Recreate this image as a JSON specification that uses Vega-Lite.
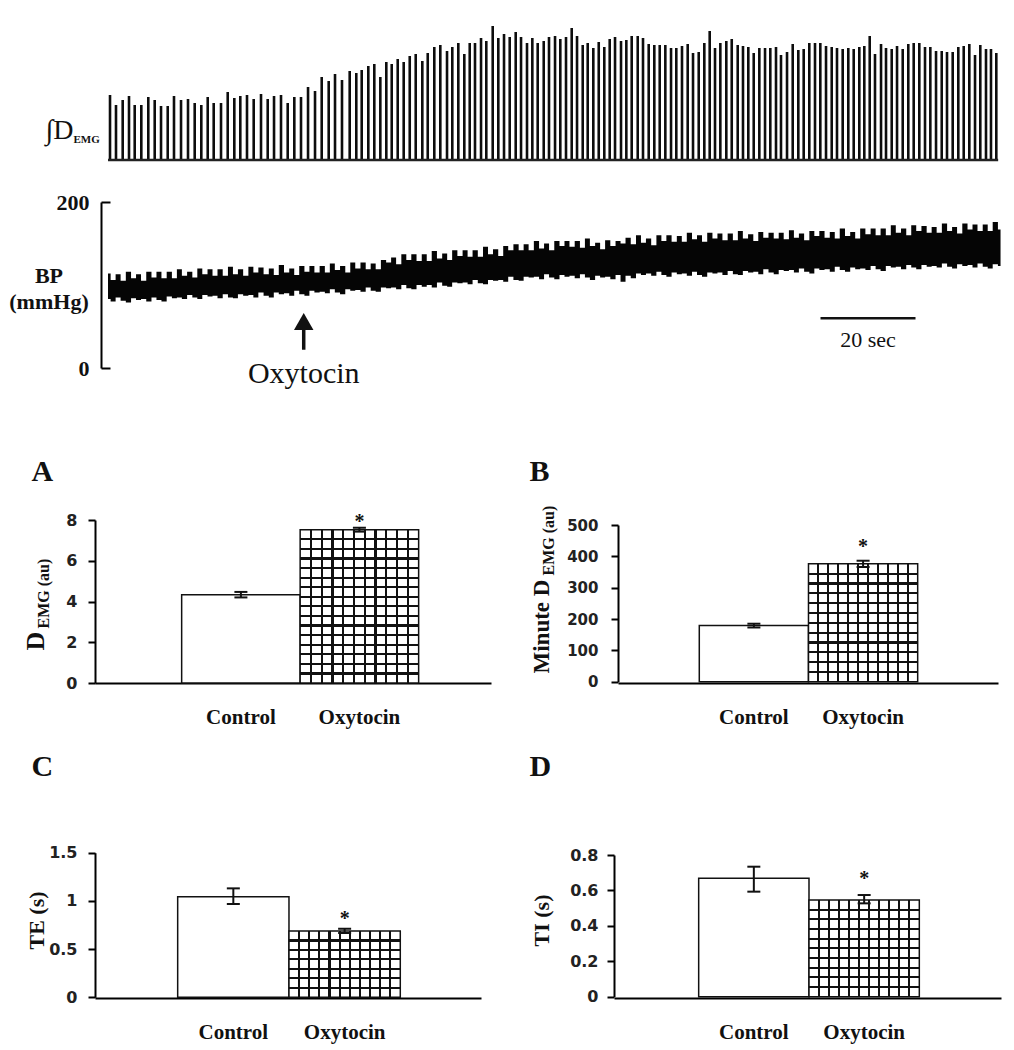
{
  "$schema": "https://vega.github.io/schema/vega-lite/v6.json",
  "padding": {"left": 8, "top": 20, "right": 5, "bottom": 5},
  "background": "white",
  "bounds": "flush",
  "spacing": 42,
  "config": {"view": {"stroke": null}, "axis": {"grid": false, "domainColor": "#000", "tickColor": "#000"}},
  "datasets": {
    "emg": [
      {"t":0.42,"amp":65},{"t":1.68,"amp":55},{"t":3.09,"amp":60},{"t":4.42,"amp":64},{"t":5.62,"amp":55},{"t":7.01,"amp":55},{"t":8.48,"amp":63},{"t":9.83,"amp":60},{"t":11.16,"amp":54},{"t":12.57,"amp":54},
      {"t":13.89,"amp":64},{"t":15.37,"amp":60},{"t":16.84,"amp":61},{"t":18.25,"amp":57},{"t":19.64,"amp":55},{"t":20.99,"amp":63},{"t":22.25,"amp":57},{"t":23.79,"amp":57},{"t":25.2,"amp":68},{"t":26.59,"amp":62},
      {"t":27.85,"amp":64},{"t":29.26,"amp":65},{"t":30.67,"amp":61},{"t":32.21,"amp":66},{"t":33.62,"amp":61},{"t":34.95,"amp":64},{"t":36.42,"amp":65},{"t":37.83,"amp":57},{"t":39.22,"amp":63},{"t":40.63,"amp":63},
      {"t":42.11,"amp":73},{"t":43.58,"amp":69},{"t":44.99,"amp":83},{"t":46.46,"amp":79},{"t":47.79,"amp":86},{"t":49.26,"amp":80},{"t":50.88,"amp":89},{"t":52.27,"amp":87},{"t":53.41,"amp":90},{"t":54.8,"amp":94},
      {"t":56.06,"amp":96},{"t":57.33,"amp":83},{"t":58.59,"amp":98},{"t":59.73,"amp":96},{"t":60.99,"amp":101},{"t":62.25,"amp":98},{"t":63.52,"amp":104},{"t":64.78,"amp":106},{"t":66.17,"amp":99},{"t":67.31,"amp":107},
      {"t":68.69,"amp":113},{"t":69.96,"amp":115},{"t":71.37,"amp":109},{"t":72.48,"amp":113},{"t":73.75,"amp":117},{"t":75.01,"amp":106},{"t":76.15,"amp":117},{"t":77.26,"amp":117},{"t":78.53,"amp":122},{"t":79.64,"amp":119},
      {"t":80.99,"amp":134},{"t":82.17,"amp":122},{"t":83.37,"amp":126},{"t":84.57,"amp":123},{"t":85.83,"amp":128},{"t":86.95,"amp":123},{"t":88.21,"amp":117},{"t":89.33,"amp":122},{"t":90.46,"amp":117},{"t":91.73,"amp":119},
      {"t":92.84,"amp":123},{"t":94.11,"amp":124},{"t":95.22,"amp":121},{"t":96.42,"amp":123},{"t":97.62,"amp":132},{"t":98.74,"amp":124},{"t":99.94,"amp":115},{"t":100.99,"amp":117},{"t":102.17,"amp":112},{"t":103.31,"amp":118},
      {"t":104.48,"amp":113},{"t":105.62,"amp":121},{"t":106.74,"amp":123},{"t":108,"amp":119},{"t":109.12,"amp":120},{"t":110.25,"amp":124},{"t":111.52,"amp":124},{"t":112.63,"amp":122},{"t":113.83,"amp":116},{"t":115.01,"amp":115},
      {"t":116.15,"amp":115},{"t":117.33,"amp":115},{"t":118.53,"amp":112},{"t":119.64,"amp":112},{"t":120.84,"amp":114},{"t":122.04,"amp":116},{"t":123.16,"amp":107},{"t":124.36,"amp":108},{"t":125.54,"amp":117},{"t":126.67,"amp":129},
      {"t":127.79,"amp":112},{"t":128.91,"amp":117},{"t":130.17,"amp":119},{"t":131.31,"amp":121},{"t":132.57,"amp":115},{"t":133.68,"amp":114},{"t":134.8,"amp":113},{"t":135.94,"amp":107},{"t":137.12,"amp":112},{"t":138.32,"amp":112},
      {"t":139.43,"amp":112},{"t":140.63,"amp":113},{"t":141.68,"amp":105},{"t":142.95,"amp":108},{"t":144.15,"amp":116},{"t":145.33,"amp":110},{"t":146.46,"amp":111},{"t":147.64,"amp":117},{"t":148.84,"amp":117},{"t":149.96,"amp":117},
      {"t":151.16,"amp":114},{"t":152.36,"amp":113},{"t":153.47,"amp":112},{"t":154.67,"amp":111},{"t":155.85,"amp":112},{"t":156.99,"amp":111},{"t":158.17,"amp":113},{"t":159.22,"amp":114},{"t":160.36,"amp":124},{"t":161.47,"amp":106},
      {"t":162.74,"amp":116},{"t":163.79,"amp":112},{"t":164.99,"amp":111},{"t":166.11,"amp":114},{"t":167.31,"amp":111},{"t":168.48,"amp":116},{"t":169.62,"amp":117},{"t":170.8,"amp":117},{"t":172,"amp":113},{"t":173.12,"amp":113},
      {"t":174.32,"amp":109},{"t":175.52,"amp":109},{"t":176.63,"amp":108},{"t":177.83,"amp":108},{"t":179.01,"amp":113},{"t":180.15,"amp":114},{"t":181.33,"amp":116},{"t":182.53,"amp":105},{"t":183.64,"amp":115},{"t":184.84,"amp":111},
      {"t":185.89,"amp":111},{"t":187.01,"amp":107}
    ],
    "bp": [
      {"t":0,"lo":83,"hi":114},{"t":1.1,"lo":80,"hi":106},{"t":2.1,"lo":85,"hi":113},{"t":3.2,"lo":81,"hi":105},{"t":4.3,"lo":79,"hi":116},{"t":5.4,"lo":84,"hi":108},{"t":6.4,"lo":82,"hi":113},{"t":7.5,"lo":83,"hi":105},
      {"t":8.6,"lo":80,"hi":116},{"t":9.7,"lo":85,"hi":109},{"t":10.7,"lo":82,"hi":116},{"t":11.8,"lo":80,"hi":108},{"t":12.9,"lo":86,"hi":116},{"t":14.0,"lo":84,"hi":108},{"t":15.0,"lo":85,"hi":119},{"t":16.1,"lo":83,"hi":111},
      {"t":17.2,"lo":88,"hi":116},{"t":18.3,"lo":85,"hi":109},{"t":19.3,"lo":83,"hi":120},{"t":20.4,"lo":88,"hi":113},{"t":21.5,"lo":86,"hi":119},{"t":22.5,"lo":87,"hi":111},{"t":23.6,"lo":84,"hi":119},{"t":24.7,"lo":89,"hi":111},
      {"t":25.8,"lo":85,"hi":122},{"t":26.8,"lo":84,"hi":113},{"t":27.9,"lo":89,"hi":119},{"t":29.0,"lo":87,"hi":111},{"t":30.1,"lo":88,"hi":122},{"t":31.1,"lo":85,"hi":115},{"t":32.2,"lo":91,"hi":121},{"t":33.3,"lo":87,"hi":113},
      {"t":34.4,"lo":85,"hi":120},{"t":35.4,"lo":91,"hi":112},{"t":36.5,"lo":89,"hi":124},{"t":37.6,"lo":90,"hi":115},{"t":38.7,"lo":87,"hi":120},{"t":39.7,"lo":93,"hi":112},{"t":40.8,"lo":89,"hi":123},{"t":41.9,"lo":87,"hi":116},
      {"t":42.9,"lo":93,"hi":123},{"t":44.0,"lo":91,"hi":115},{"t":45.1,"lo":92,"hi":123},{"t":46.2,"lo":90,"hi":115},{"t":47.2,"lo":95,"hi":126},{"t":48.3,"lo":91,"hi":118},{"t":49.4,"lo":89,"hi":123},{"t":50.5,"lo":95,"hi":115},
      {"t":51.5,"lo":93,"hi":127},{"t":52.6,"lo":94,"hi":120},{"t":53.7,"lo":92,"hi":127},{"t":54.8,"lo":97,"hi":119},{"t":55.8,"lo":93,"hi":126},{"t":56.9,"lo":92,"hi":119},{"t":58.0,"lo":97,"hi":130},{"t":59.1,"lo":96,"hi":127},
      {"t":60.1,"lo":97,"hi":133},{"t":61.2,"lo":95,"hi":125},{"t":62.3,"lo":100,"hi":137},{"t":63.3,"lo":96,"hi":130},{"t":64.4,"lo":95,"hi":137},{"t":65.5,"lo":100,"hi":129},{"t":66.6,"lo":98,"hi":137},{"t":67.6,"lo":100,"hi":129},
      {"t":68.7,"lo":97,"hi":141},{"t":69.8,"lo":103,"hi":132},{"t":70.9,"lo":99,"hi":138},{"t":71.9,"lo":98,"hi":130},{"t":73.0,"lo":103,"hi":142},{"t":74.1,"lo":102,"hi":135},{"t":75.2,"lo":103,"hi":142},{"t":76.2,"lo":101,"hi":134},
      {"t":77.3,"lo":106,"hi":142},{"t":78.4,"lo":102,"hi":134},{"t":79.5,"lo":101,"hi":146},{"t":80.5,"lo":106,"hi":137},{"t":81.6,"lo":105,"hi":143},{"t":82.7,"lo":106,"hi":135},{"t":83.7,"lo":104,"hi":147},{"t":84.8,"lo":110,"hi":142},
      {"t":85.9,"lo":106,"hi":149},{"t":87.0,"lo":105,"hi":142},{"t":88.0,"lo":110,"hi":149},{"t":89.1,"lo":109,"hi":142},{"t":90.2,"lo":110,"hi":153},{"t":91.3,"lo":107,"hi":144},{"t":92.3,"lo":113,"hi":150},{"t":93.4,"lo":109,"hi":142},
      {"t":94.5,"lo":107,"hi":153},{"t":95.6,"lo":112,"hi":147},{"t":96.6,"lo":110,"hi":153},{"t":97.7,"lo":111,"hi":146},{"t":98.8,"lo":108,"hi":153},{"t":99.9,"lo":113,"hi":145},{"t":100.9,"lo":109,"hi":156},{"t":102.0,"lo":106,"hi":147},
      {"t":103.1,"lo":111,"hi":151},{"t":104.1,"lo":109,"hi":143},{"t":105.2,"lo":110,"hi":154},{"t":106.3,"lo":107,"hi":147},{"t":107.4,"lo":112,"hi":153},{"t":108.4,"lo":104,"hi":150},{"t":109.5,"lo":111,"hi":157},{"t":110.6,"lo":108,"hi":149},
      {"t":111.7,"lo":114,"hi":160},{"t":112.7,"lo":112,"hi":151},{"t":113.8,"lo":114,"hi":156},{"t":114.9,"lo":111,"hi":148},{"t":116.0,"lo":116,"hi":160},{"t":117.0,"lo":112,"hi":153},{"t":118.1,"lo":110,"hi":160},{"t":119.2,"lo":115,"hi":152},
      {"t":120.3,"lo":113,"hi":159},{"t":121.3,"lo":114,"hi":152},{"t":122.4,"lo":111,"hi":163},{"t":123.5,"lo":116,"hi":155},{"t":124.5,"lo":112,"hi":160},{"t":125.6,"lo":110,"hi":152},{"t":126.7,"lo":115,"hi":163},{"t":127.8,"lo":114,"hi":156},
      {"t":128.8,"lo":115,"hi":162},{"t":129.9,"lo":112,"hi":154},{"t":131.0,"lo":117,"hi":162},{"t":132.1,"lo":113,"hi":154},{"t":133.1,"lo":112,"hi":165},{"t":134.2,"lo":117,"hi":156},{"t":135.3,"lo":115,"hi":161},{"t":136.4,"lo":116,"hi":153},
      {"t":137.4,"lo":113,"hi":164},{"t":138.5,"lo":119,"hi":157},{"t":139.6,"lo":115,"hi":163},{"t":140.7,"lo":113,"hi":156},{"t":141.7,"lo":118,"hi":163},{"t":142.8,"lo":117,"hi":155},{"t":143.9,"lo":118,"hi":166},{"t":144.9,"lo":115,"hi":157},
      {"t":146.0,"lo":120,"hi":162},{"t":147.1,"lo":116,"hi":154},{"t":148.2,"lo":114,"hi":165},{"t":149.2,"lo":120,"hi":159},{"t":150.3,"lo":118,"hi":165},{"t":151.4,"lo":119,"hi":157},{"t":152.5,"lo":116,"hi":164},{"t":153.5,"lo":122,"hi":156},
      {"t":154.6,"lo":118,"hi":168},{"t":155.7,"lo":116,"hi":159},{"t":156.8,"lo":121,"hi":164},{"t":157.8,"lo":119,"hi":156},{"t":158.9,"lo":120,"hi":168},{"t":160.0,"lo":118,"hi":161},{"t":161.1,"lo":123,"hi":168},{"t":162.1,"lo":119,"hi":160},
      {"t":163.2,"lo":117,"hi":168},{"t":164.3,"lo":123,"hi":160},{"t":165.3,"lo":121,"hi":172},{"t":166.4,"lo":122,"hi":163},{"t":167.5,"lo":119,"hi":168},{"t":168.6,"lo":124,"hi":160},{"t":169.6,"lo":121,"hi":172},{"t":170.7,"lo":119,"hi":165},
      {"t":171.8,"lo":124,"hi":171},{"t":172.9,"lo":122,"hi":163},{"t":173.9,"lo":123,"hi":170},{"t":175.0,"lo":121,"hi":163},{"t":176.1,"lo":126,"hi":174},{"t":177.2,"lo":122,"hi":165},{"t":178.2,"lo":120,"hi":170},{"t":179.3,"lo":125,"hi":162},
      {"t":180.4,"lo":123,"hi":174},{"t":181.5,"lo":124,"hi":167},{"t":182.5,"lo":121,"hi":173},{"t":183.6,"lo":126,"hi":165},{"t":184.7,"lo":122,"hi":173},{"t":185.7,"lo":120,"hi":165},{"t":186.8,"lo":125,"hi":176},{"t":187.9,"lo":123,"hi":167}
    ],
    "A": [{"group":"Control","mean":4.33,"lo":4.2,"hi":4.47},{"group":"Oxytocin","mean":7.52,"lo":7.43,"hi":7.62}],
    "B": [{"group":"Control","mean":179,"lo":173,"hi":185},{"group":"Oxytocin","mean":376,"lo":366,"hi":386}],
    "C": [{"group":"Control","mean":1.044,"lo":0.968,"hi":1.13},{"group":"Oxytocin","mean":0.688,"lo":0.667,"hi":0.71}],
    "D": [{"group":"Control","mean":0.669,"lo":0.593,"hi":0.734},{"group":"Oxytocin","mean":0.546,"lo":0.527,"hi":0.574}]
  },
  "vconcat": [
    {
      "width": 909, "height": 140,
      "layer": [
        {"data": {"name": "emg"},
         "mark": {"type": "rule", "color": "#0d0d0d", "strokeWidth": 2.6},
         "encoding": {
           "x": {"field": "t", "type": "quantitative", "scale": {"domain": [-2.74, 188.63], "nice": false, "zero": false}, "axis": null},
           "y": {"field": "amp", "type": "quantitative", "scale": {"domain": [0, 140], "nice": false, "zero": false},
                 "axis": {"orient": "left", "domain": false, "ticks": false, "labels": false, "title": "∫D", "titleAngle": 0, "titleAlign": "right", "titleBaseline": "alphabetic", "titleX": -22, "titleY": 118, "titleFont": "Liberation Serif", "titleFontSize": 28, "titleFontWeight": "normal", "titleColor": "#111"}},
           "y2": {"datum": 0}
         }},
        {"data": {"values": [{}]},
         "mark": {"type": "rule", "color": "#222", "strokeWidth": 2.5},
         "encoding": {
           "x": {"datum": 0, "type": "quantitative", "scale": {"domain": [-2.74, 188.63], "nice": false, "zero": false}, "axis": null},
           "x2": {"datum": 187.4},
           "y": {"datum": 0, "type": "quantitative", "scale": {"domain": [0, 140], "nice": false, "zero": false},
                 "axis": {"orient": "left", "domain": false, "ticks": false, "labels": false, "title": "EMG", "titleAngle": 0, "titleAlign": "left", "titleBaseline": "alphabetic", "titleX": -22, "titleY": 122, "titleFont": "Liberation Serif", "titleFontSize": 11, "titleFontWeight": "bold", "titleColor": "#111"}}
         }}
      ],
      "resolve": {"axis": {"x": "independent", "y": "independent"}}
    },
    {
      "width": 909, "height": 276,
      "layer": [
        {"data": {"name": "bp"},
         "mark": {"type": "area", "color": "#050505", "opacity": 1, "interpolate": "step"},
         "encoding": {
           "x": {"field": "t", "type": "quantitative", "scale": {"domain": [-2.74, 188.63], "nice": false, "zero": false}, "axis": null},
           "y": {"field": "lo", "type": "quantitative", "scale": {"domain": [0, 200], "range": [166, 0], "nice": false, "zero": false},
                 "axis": {"orient": "left", "offset": -6, "values": [0, 200], "tickSize": -9, "tickWidth": 2, "domainWidth": 2, "labelPadding": 21, "labelFont": "Liberation Serif", "labelFontSize": 22, "labelFontWeight": "bold", "labelColor": "#111",
                          "title": ["BP", "(mmHg)"], "titleAngle": 0, "titleAlign": "center", "titleBaseline": "top", "titleX": -52.5, "titleY": 63, "titleLineHeight": 26, "titleFont": "Liberation Serif", "titleFontSize": 22, "titleFontWeight": "bold", "titleColor": "#111"}},
           "y2": {"field": "hi"}
         }},
        {"data": {"values": [{"event": "Oxytocin", "t": 41.2}]},
         "mark": {"type": "rule", "color": "#111", "strokeWidth": 3.5},
         "encoding": {
           "x": {"field": "t", "type": "quantitative", "scale": {"domain": [-2.74, 188.63], "nice": false, "zero": false}, "axis": null},
           "y": {"datum": 22, "type": "quantitative", "scale": {"domain": [0, 200], "range": [166, 0], "nice": false, "zero": false}, "axis": null},
           "y2": {"datum": 50}
         }},
        {"data": {"values": [{"event": "Oxytocin", "t": 41.2}]},
         "mark": {"type": "point", "shape": "triangle-up", "filled": true, "color": "#111", "opacity": 1, "size": 380},
         "encoding": {
           "x": {"field": "t", "type": "quantitative", "scale": {"domain": [-2.74, 188.63], "nice": false, "zero": false}, "axis": null},
           "y": {"datum": 56, "type": "quantitative", "scale": {"domain": [0, 200], "range": [166, 0], "nice": false, "zero": false}, "axis": null}
         }},
        {"data": {"values": [{"event": "Oxytocin", "t": 41.2}]},
         "mark": {"type": "text", "font": "Liberation Serif", "fontSize": 30, "color": "#111", "align": "center", "baseline": "alphabetic"},
         "encoding": {
           "x": {"field": "t", "type": "quantitative", "scale": {"domain": [-2.74, 188.63], "nice": false, "zero": false}, "axis": null},
           "y": {"datum": -18, "type": "quantitative", "scale": {"domain": [0, 200], "range": [166, 0], "nice": false, "zero": false}, "axis": null},
           "text": {"field": "event"}
         }},
        {"data": {"values": [{"t0": 150, "t1": 170, "label": "20 sec"}]},
         "mark": {"type": "rule", "color": "#111", "strokeWidth": 2.5},
         "encoding": {
           "x": {"field": "t0", "type": "quantitative", "scale": {"domain": [-2.74, 188.63], "nice": false, "zero": false}, "axis": null},
           "x2": {"field": "t1"},
           "y": {"datum": 60, "type": "quantitative", "scale": {"domain": [0, 200], "range": [166, 0], "nice": false, "zero": false}, "axis": null}
         }},
        {"data": {"values": [{"t0": 150, "t1": 170, "label": "20 sec"}]},
         "mark": {"type": "text", "font": "Liberation Serif", "fontSize": 22, "color": "#111", "align": "center", "baseline": "alphabetic"},
         "encoding": {
           "x": {"datum": 160, "type": "quantitative", "scale": {"domain": [-2.74, 188.63], "nice": false, "zero": false}, "axis": null},
           "y": {"datum": 25, "type": "quantitative", "scale": {"domain": [0, 200], "range": [166, 0], "nice": false, "zero": false}, "axis": null},
           "text": {"field": "label"}
         }}
      ],
      "resolve": {"axis": {"x": "independent", "y": "independent"}}
    },
    {
      "width": 909, "height": 163,
      "layer": [
        {
          "data": {"name": "A"},
          "layer": [
            {"transform": [{"filter": "datum.group === 'Control'"}],
             "mark": {"type": "bar", "fill": "white", "stroke": "#111", "strokeWidth": 1.5},
             "encoding": {
               "x": {"field": "group", "type": "nominal", "scale": {"domain": ["Control", "Oxytocin"], "range": [0, 396], "paddingInner": 0, "paddingOuter": 0.671, "align": 0.545},
                     "axis": {"orient": "bottom", "title": null, "ticks": false, "domainWidth": 2, "labelAngle": 0, "labelPadding": 23, "labelFont": "Liberation Serif", "labelFontSize": 21, "labelFontWeight": "bold", "labelColor": "#111"}},
               "y": {"field": "mean", "type": "quantitative", "scale": {"domain": [0, 8], "range": [163, 0], "nice": false},
                     "axis": {"orient": "left", "values": [0, 2, 4, 6, 8], "tickSize": 7, "tickWidth": 2, "domainWidth": 2, "labelPadding": 11, "labelFont": "DejaVu Sans", "labelFontSize": 16, "labelFontWeight": "bold", "labelColor": "#222",
                              "title": "D", "titleAngle": 270, "titleAlign": "left", "titleBaseline": "alphabetic", "titleX": -52, "titleY": 130, "titleFont": "Liberation Serif", "titleFontSize": 26, "titleFontWeight": "bold", "titleColor": "#111"}}
             }},
            {"transform": [{"filter": "datum.group === 'Oxytocin'"}],
             "mark": {"type": "bar", "fill": {"gradient": "linear", "x1": 0, "y1": 0, "x2": 0, "y2": 1, "stops": [
               {"offset": 0, "color": "white"},
               {"offset": 0.0554, "color": "white"}, {"offset": 0.0554, "color": "#111"}, {"offset": 0.0696, "color": "#111"}, {"offset": 0.0696, "color": "white"},
               {"offset": 0.1179, "color": "white"}, {"offset": 0.1179, "color": "#111"}, {"offset": 0.1321, "color": "#111"}, {"offset": 0.1321, "color": "white"},
               {"offset": 0.1804, "color": "white"}, {"offset": 0.1804, "color": "#111"}, {"offset": 0.1946, "color": "#111"}, {"offset": 0.1946, "color": "white"},
               {"offset": 0.2429, "color": "white"}, {"offset": 0.2429, "color": "#111"}, {"offset": 0.2571, "color": "#111"}, {"offset": 0.2571, "color": "white"},
               {"offset": 0.3054, "color": "white"}, {"offset": 0.3054, "color": "#111"}, {"offset": 0.3196, "color": "#111"}, {"offset": 0.3196, "color": "white"},
               {"offset": 0.3679, "color": "white"}, {"offset": 0.3679, "color": "#111"}, {"offset": 0.3821, "color": "#111"}, {"offset": 0.3821, "color": "white"},
               {"offset": 0.4304, "color": "white"}, {"offset": 0.4304, "color": "#111"}, {"offset": 0.4446, "color": "#111"}, {"offset": 0.4446, "color": "white"},
               {"offset": 0.4929, "color": "white"}, {"offset": 0.4929, "color": "#111"}, {"offset": 0.5071, "color": "#111"}, {"offset": 0.5071, "color": "white"},
               {"offset": 0.5554, "color": "white"}, {"offset": 0.5554, "color": "#111"}, {"offset": 0.5696, "color": "#111"}, {"offset": 0.5696, "color": "white"},
               {"offset": 0.6179, "color": "white"}, {"offset": 0.6179, "color": "#111"}, {"offset": 0.6321, "color": "#111"}, {"offset": 0.6321, "color": "white"},
               {"offset": 0.6804, "color": "white"}, {"offset": 0.6804, "color": "#111"}, {"offset": 0.6946, "color": "#111"}, {"offset": 0.6946, "color": "white"},
               {"offset": 0.7429, "color": "white"}, {"offset": 0.7429, "color": "#111"}, {"offset": 0.7571, "color": "#111"}, {"offset": 0.7571, "color": "white"},
               {"offset": 0.8054, "color": "white"}, {"offset": 0.8054, "color": "#111"}, {"offset": 0.8196, "color": "#111"}, {"offset": 0.8196, "color": "white"},
               {"offset": 0.8679, "color": "white"}, {"offset": 0.8679, "color": "#111"}, {"offset": 0.8821, "color": "#111"}, {"offset": 0.8821, "color": "white"},
               {"offset": 0.9304, "color": "white"}, {"offset": 0.9304, "color": "#111"}, {"offset": 0.9446, "color": "#111"}, {"offset": 0.9446, "color": "white"},
               {"offset": 1, "color": "white"}]}},
             "encoding": {
               "x": {"field": "group", "type": "nominal", "scale": {"domain": ["Control", "Oxytocin"], "range": [0, 396], "paddingInner": 0, "paddingOuter": 0.671, "align": 0.545}, "axis": null},
               "y": {"field": "mean", "type": "quantitative", "scale": {"domain": [0, 8], "range": [163, 0], "nice": false},
                     "axis": {"orient": "left", "domain": false, "ticks": false, "labels": false, "title": "EMG (au)", "titleAngle": 270, "titleAlign": "left", "titleBaseline": "alphabetic", "titleX": -47, "titleY": 108, "titleFont": "Liberation Serif", "titleFontSize": 16, "titleFontWeight": "bold", "titleColor": "#111"}}
             }},
            {"transform": [{"filter": "datum.group === 'Oxytocin'"}],
             "mark": {"type": "bar", "stroke": "#111", "strokeWidth": 1.5, "fill": {"gradient": "linear", "x1": 0, "y1": 0, "x2": 1, "y2": 0, "stops": [
               {"offset": 0, "color": "rgba(0,0,0,0)"},
               {"offset": 0.0814, "color": "rgba(0,0,0,0)"}, {"offset": 0.0814, "color": "#111"}, {"offset": 0.1004, "color": "#111"}, {"offset": 0.1004, "color": "rgba(0,0,0,0)"},
               {"offset": 0.1723, "color": "rgba(0,0,0,0)"}, {"offset": 0.1723, "color": "#111"}, {"offset": 0.1913, "color": "#111"}, {"offset": 0.1913, "color": "rgba(0,0,0,0)"},
               {"offset": 0.2632, "color": "rgba(0,0,0,0)"}, {"offset": 0.2632, "color": "#111"}, {"offset": 0.2822, "color": "#111"}, {"offset": 0.2822, "color": "rgba(0,0,0,0)"},
               {"offset": 0.3541, "color": "rgba(0,0,0,0)"}, {"offset": 0.3541, "color": "#111"}, {"offset": 0.3731, "color": "#111"}, {"offset": 0.3731, "color": "rgba(0,0,0,0)"},
               {"offset": 0.4450, "color": "rgba(0,0,0,0)"}, {"offset": 0.4450, "color": "#111"}, {"offset": 0.4640, "color": "#111"}, {"offset": 0.4640, "color": "rgba(0,0,0,0)"},
               {"offset": 0.5360, "color": "rgba(0,0,0,0)"}, {"offset": 0.5360, "color": "#111"}, {"offset": 0.5550, "color": "#111"}, {"offset": 0.5550, "color": "rgba(0,0,0,0)"},
               {"offset": 0.6269, "color": "rgba(0,0,0,0)"}, {"offset": 0.6269, "color": "#111"}, {"offset": 0.6459, "color": "#111"}, {"offset": 0.6459, "color": "rgba(0,0,0,0)"},
               {"offset": 0.7178, "color": "rgba(0,0,0,0)"}, {"offset": 0.7178, "color": "#111"}, {"offset": 0.7368, "color": "#111"}, {"offset": 0.7368, "color": "rgba(0,0,0,0)"},
               {"offset": 0.8087, "color": "rgba(0,0,0,0)"}, {"offset": 0.8087, "color": "#111"}, {"offset": 0.8277, "color": "#111"}, {"offset": 0.8277, "color": "rgba(0,0,0,0)"},
               {"offset": 0.8996, "color": "rgba(0,0,0,0)"}, {"offset": 0.8996, "color": "#111"}, {"offset": 0.9186, "color": "#111"}, {"offset": 0.9186, "color": "rgba(0,0,0,0)"},
               {"offset": 1, "color": "rgba(0,0,0,0)"}]}},
             "encoding": {
               "x": {"field": "group", "type": "nominal", "scale": {"domain": ["Control", "Oxytocin"], "range": [0, 396], "paddingInner": 0, "paddingOuter": 0.671, "align": 0.545}, "axis": null},
               "y": {"field": "mean", "type": "quantitative", "scale": {"domain": [0, 8], "range": [163, 0], "nice": false},
                     "axis": {"orient": "left", "domain": false, "ticks": false, "labels": false, "title": "A", "titleAngle": 0, "titleAlign": "left", "titleBaseline": "alphabetic", "titleX": -64, "titleY": -40, "titleFont": "Liberation Serif", "titleFontSize": 30, "titleFontWeight": "bold", "titleColor": "#111"}}
             }},
            {"mark": {"type": "rule", "color": "#111", "strokeWidth": 2},
             "encoding": {
               "x": {"field": "group", "type": "nominal", "scale": {"domain": ["Control", "Oxytocin"], "range": [0, 396], "paddingInner": 0, "paddingOuter": 0.671, "align": 0.545}, "axis": null},
               "y": {"field": "lo", "type": "quantitative", "scale": {"domain": [0, 8], "range": [163, 0], "nice": false}, "axis": null},
               "y2": {"field": "hi"}
             }},
            {"mark": {"type": "tick", "color": "#111", "thickness": 2, "size": 13, "opacity": 1},
             "encoding": {
               "x": {"field": "group", "type": "nominal", "scale": {"domain": ["Control", "Oxytocin"], "range": [0, 396], "paddingInner": 0, "paddingOuter": 0.671, "align": 0.545}, "axis": null},
               "y": {"field": "lo", "type": "quantitative", "scale": {"domain": [0, 8], "range": [163, 0], "nice": false}, "axis": null}
             }},
            {"mark": {"type": "tick", "color": "#111", "thickness": 2, "size": 13, "opacity": 1},
             "encoding": {
               "x": {"field": "group", "type": "nominal", "scale": {"domain": ["Control", "Oxytocin"], "range": [0, 396], "paddingInner": 0, "paddingOuter": 0.671, "align": 0.545}, "axis": null},
               "y": {"field": "hi", "type": "quantitative", "scale": {"domain": [0, 8], "range": [163, 0], "nice": false}, "axis": null}
             }},
            {"transform": [{"filter": "datum.group === 'Oxytocin'"}],
             "mark": {"type": "text", "text": "*", "font": "Liberation Serif", "fontSize": 20, "fontWeight": "bold", "color": "#111", "baseline": "alphabetic", "dy": 0},
             "encoding": {
               "x": {"field": "group", "type": "nominal", "scale": {"domain": ["Control", "Oxytocin"], "range": [0, 396], "paddingInner": 0, "paddingOuter": 0.671, "align": 0.545}, "axis": null},
               "y": {"field": "hi", "type": "quantitative", "scale": {"domain": [0, 8], "range": [163, 0], "nice": false}, "axis": null}
             }}
          ],
          "resolve": {"axis": {"x": "independent", "y": "independent"}}
        },
        {
          "data": {"name": "B"},
          "layer": [
            {"transform": [{"filter": "datum.group === 'Control'"}],
             "mark": {"type": "bar", "fill": "white", "stroke": "#111", "strokeWidth": 1.5},
             "encoding": {
               "x": {"field": "group", "type": "nominal", "scale": {"domain": ["Control", "Oxytocin"], "range": [523, 903], "paddingInner": 0, "paddingOuter": 0.74, "align": 0.503},
                     "axis": {"orient": "bottom", "title": null, "ticks": false, "domainWidth": 2, "labelAngle": 0, "labelPadding": 23, "labelFont": "Liberation Serif", "labelFontSize": 21, "labelFontWeight": "bold", "labelColor": "#111"}},
               "y": {"field": "mean", "type": "quantitative", "scale": {"domain": [0, 500], "range": [161.7, 5], "nice": false},
                     "axis": {"orient": "left", "offset": -523, "values": [0, 100, 200, 300, 400, 500], "tickSize": 7, "tickWidth": 2, "domainWidth": 2, "labelPadding": 13, "labelFont": "DejaVu Sans", "labelFontSize": 15, "labelFontWeight": "bold", "labelColor": "#222",
                              "title": "Minute D", "titleAngle": 270, "titleAlign": "left", "titleBaseline": "alphabetic", "titleX": -70, "titleY": 153, "titleFont": "Liberation Serif", "titleFontSize": 23, "titleFontWeight": "bold", "titleColor": "#111"}}
             }},
            {"transform": [{"filter": "datum.group === 'Oxytocin'"}],
             "mark": {"type": "bar", "fill": {"gradient": "linear", "x1": 0, "y1": 0, "x2": 0, "y2": 1, "stops": [
               {"offset": 0, "color": "white"},
               {"offset": 0.0740, "color": "white"}, {"offset": 0.0740, "color": "#111"}, {"offset": 0.0926, "color": "#111"}, {"offset": 0.0926, "color": "white"},
               {"offset": 0.1574, "color": "white"}, {"offset": 0.1574, "color": "#111"}, {"offset": 0.1760, "color": "#111"}, {"offset": 0.1760, "color": "white"},
               {"offset": 0.2407, "color": "white"}, {"offset": 0.2407, "color": "#111"}, {"offset": 0.2593, "color": "#111"}, {"offset": 0.2593, "color": "white"},
               {"offset": 0.3240, "color": "white"}, {"offset": 0.3240, "color": "#111"}, {"offset": 0.3426, "color": "#111"}, {"offset": 0.3426, "color": "white"},
               {"offset": 0.4074, "color": "white"}, {"offset": 0.4074, "color": "#111"}, {"offset": 0.4260, "color": "#111"}, {"offset": 0.4260, "color": "white"},
               {"offset": 0.4907, "color": "white"}, {"offset": 0.4907, "color": "#111"}, {"offset": 0.5093, "color": "#111"}, {"offset": 0.5093, "color": "white"},
               {"offset": 0.5740, "color": "white"}, {"offset": 0.5740, "color": "#111"}, {"offset": 0.5926, "color": "#111"}, {"offset": 0.5926, "color": "white"},
               {"offset": 0.6574, "color": "white"}, {"offset": 0.6574, "color": "#111"}, {"offset": 0.6760, "color": "#111"}, {"offset": 0.6760, "color": "white"},
               {"offset": 0.7407, "color": "white"}, {"offset": 0.7407, "color": "#111"}, {"offset": 0.7593, "color": "#111"}, {"offset": 0.7593, "color": "white"},
               {"offset": 0.8240, "color": "white"}, {"offset": 0.8240, "color": "#111"}, {"offset": 0.8426, "color": "#111"}, {"offset": 0.8426, "color": "white"},
               {"offset": 0.9074, "color": "white"}, {"offset": 0.9074, "color": "#111"}, {"offset": 0.9260, "color": "#111"}, {"offset": 0.9260, "color": "white"},
               {"offset": 1, "color": "white"}]}},
             "encoding": {
               "x": {"field": "group", "type": "nominal", "scale": {"domain": ["Control", "Oxytocin"], "range": [523, 903], "paddingInner": 0, "paddingOuter": 0.74, "align": 0.503}, "axis": null},
               "y": {"field": "mean", "type": "quantitative", "scale": {"domain": [0, 500], "range": [161.7, 5], "nice": false},
                     "axis": {"orient": "left", "offset": -523, "domain": false, "ticks": false, "labels": false, "title": "EMG (au)", "titleAngle": 270, "titleAlign": "left", "titleBaseline": "alphabetic", "titleX": -65, "titleY": 55, "titleFont": "Liberation Serif", "titleFontSize": 16, "titleFontWeight": "bold", "titleColor": "#111"}}
             }},
            {"transform": [{"filter": "datum.group === 'Oxytocin'"}],
             "mark": {"type": "bar", "stroke": "#111", "strokeWidth": 1.5, "fill": {"gradient": "linear", "x1": 0, "y1": 0, "x2": 1, "y2": 0, "stops": [
               {"offset": 0, "color": "rgba(0,0,0,0)"},
               {"offset": 0.0814, "color": "rgba(0,0,0,0)"}, {"offset": 0.0814, "color": "#111"}, {"offset": 0.1004, "color": "#111"}, {"offset": 0.1004, "color": "rgba(0,0,0,0)"},
               {"offset": 0.1723, "color": "rgba(0,0,0,0)"}, {"offset": 0.1723, "color": "#111"}, {"offset": 0.1913, "color": "#111"}, {"offset": 0.1913, "color": "rgba(0,0,0,0)"},
               {"offset": 0.2632, "color": "rgba(0,0,0,0)"}, {"offset": 0.2632, "color": "#111"}, {"offset": 0.2822, "color": "#111"}, {"offset": 0.2822, "color": "rgba(0,0,0,0)"},
               {"offset": 0.3541, "color": "rgba(0,0,0,0)"}, {"offset": 0.3541, "color": "#111"}, {"offset": 0.3731, "color": "#111"}, {"offset": 0.3731, "color": "rgba(0,0,0,0)"},
               {"offset": 0.4450, "color": "rgba(0,0,0,0)"}, {"offset": 0.4450, "color": "#111"}, {"offset": 0.4640, "color": "#111"}, {"offset": 0.4640, "color": "rgba(0,0,0,0)"},
               {"offset": 0.5360, "color": "rgba(0,0,0,0)"}, {"offset": 0.5360, "color": "#111"}, {"offset": 0.5550, "color": "#111"}, {"offset": 0.5550, "color": "rgba(0,0,0,0)"},
               {"offset": 0.6269, "color": "rgba(0,0,0,0)"}, {"offset": 0.6269, "color": "#111"}, {"offset": 0.6459, "color": "#111"}, {"offset": 0.6459, "color": "rgba(0,0,0,0)"},
               {"offset": 0.7178, "color": "rgba(0,0,0,0)"}, {"offset": 0.7178, "color": "#111"}, {"offset": 0.7368, "color": "#111"}, {"offset": 0.7368, "color": "rgba(0,0,0,0)"},
               {"offset": 0.8087, "color": "rgba(0,0,0,0)"}, {"offset": 0.8087, "color": "#111"}, {"offset": 0.8277, "color": "#111"}, {"offset": 0.8277, "color": "rgba(0,0,0,0)"},
               {"offset": 0.8996, "color": "rgba(0,0,0,0)"}, {"offset": 0.8996, "color": "#111"}, {"offset": 0.9186, "color": "#111"}, {"offset": 0.9186, "color": "rgba(0,0,0,0)"},
               {"offset": 1, "color": "rgba(0,0,0,0)"}]}},
             "encoding": {
               "x": {"field": "group", "type": "nominal", "scale": {"domain": ["Control", "Oxytocin"], "range": [523, 903], "paddingInner": 0, "paddingOuter": 0.74, "align": 0.503}, "axis": null},
               "y": {"field": "mean", "type": "quantitative", "scale": {"domain": [0, 500], "range": [161.7, 5], "nice": false},
                     "axis": {"orient": "left", "offset": -523, "domain": false, "ticks": false, "labels": false, "title": "B", "titleAngle": 0, "titleAlign": "left", "titleBaseline": "alphabetic", "titleX": -89, "titleY": -40, "titleFont": "Liberation Serif", "titleFontSize": 30, "titleFontWeight": "bold", "titleColor": "#111"}}
             }},
            {"mark": {"type": "rule", "color": "#111", "strokeWidth": 2},
             "encoding": {
               "x": {"field": "group", "type": "nominal", "scale": {"domain": ["Control", "Oxytocin"], "range": [523, 903], "paddingInner": 0, "paddingOuter": 0.74, "align": 0.503}, "axis": null},
               "y": {"field": "lo", "type": "quantitative", "scale": {"domain": [0, 500], "range": [161.7, 5], "nice": false}, "axis": null},
               "y2": {"field": "hi"}
             }},
            {"mark": {"type": "tick", "color": "#111", "thickness": 2, "size": 13, "opacity": 1},
             "encoding": {
               "x": {"field": "group", "type": "nominal", "scale": {"domain": ["Control", "Oxytocin"], "range": [523, 903], "paddingInner": 0, "paddingOuter": 0.74, "align": 0.503}, "axis": null},
               "y": {"field": "lo", "type": "quantitative", "scale": {"domain": [0, 500], "range": [161.7, 5], "nice": false}, "axis": null}
             }},
            {"mark": {"type": "tick", "color": "#111", "thickness": 2, "size": 13, "opacity": 1},
             "encoding": {
               "x": {"field": "group", "type": "nominal", "scale": {"domain": ["Control", "Oxytocin"], "range": [523, 903], "paddingInner": 0, "paddingOuter": 0.74, "align": 0.503}, "axis": null},
               "y": {"field": "hi", "type": "quantitative", "scale": {"domain": [0, 500], "range": [161.7, 5], "nice": false}, "axis": null}
             }},
            {"transform": [{"filter": "datum.group === 'Oxytocin'"}],
             "mark": {"type": "text", "text": "*", "font": "Liberation Serif", "fontSize": 20, "fontWeight": "bold", "color": "#111", "baseline": "alphabetic", "dy": -8},
             "encoding": {
               "x": {"field": "group", "type": "nominal", "scale": {"domain": ["Control", "Oxytocin"], "range": [523, 903], "paddingInner": 0, "paddingOuter": 0.74, "align": 0.503}, "axis": null},
               "y": {"field": "hi", "type": "quantitative", "scale": {"domain": [0, 500], "range": [161.7, 5], "nice": false}, "axis": null}
             }}
          ],
          "resolve": {"axis": {"x": "independent", "y": "independent"}}
        }
      ],
      "resolve": {"scale": {"x": "independent", "y": "independent"}, "axis": {"x": "independent", "y": "independent"}}
    },
    {
      "width": 909, "height": 273,
      "layer": [
        {
          "data": {"name": "C"},
          "layer": [
            {"transform": [{"filter": "datum.group === 'Control'"}],
             "mark": {"type": "bar", "fill": "white", "stroke": "#111", "strokeWidth": 1.5},
             "encoding": {
               "x": {"field": "group", "type": "nominal", "scale": {"domain": ["Control", "Oxytocin"], "range": [0, 386], "paddingInner": 0, "paddingOuter": 0.734, "align": 0.506},
                     "axis": {"orient": "bottom", "title": null, "ticks": false, "domainWidth": 2, "labelAngle": 0, "labelPadding": 23, "labelFont": "Liberation Serif", "labelFontSize": 21, "labelFontWeight": "bold", "labelColor": "#111"}},
               "y": {"field": "mean", "type": "quantitative", "scale": {"domain": [0, 1.5], "range": [272.3, 127.7], "nice": false},
                     "axis": {"orient": "left", "values": [0, 0.5, 1, 1.5], "format": "~g", "tickSize": 7, "tickWidth": 2, "domainWidth": 2, "labelPadding": 11, "labelFont": "DejaVu Sans", "labelFontSize": 16, "labelFontWeight": "bold", "labelColor": "#222",
                              "title": "TE (s)", "titleAngle": 270, "titleAlign": "center", "titleBaseline": "alphabetic", "titleX": -52, "titleY": 195, "titleFont": "Liberation Serif", "titleFontSize": 22, "titleFontWeight": "bold", "titleColor": "#111"}}
             }},
            {"transform": [{"filter": "datum.group === 'Oxytocin'"}],
             "mark": {"type": "bar", "fill": {"gradient": "linear", "x1": 0, "y1": 0, "x2": 0, "y2": 1, "stops": [
               {"offset": 0, "color": "white"},
               {"offset": 0.1264, "color": "white"}, {"offset": 0.1264, "color": "#111"}, {"offset": 0.1594, "color": "#111"}, {"offset": 0.1594, "color": "white"},
               {"offset": 0.2692, "color": "white"}, {"offset": 0.2692, "color": "#111"}, {"offset": 0.3022, "color": "#111"}, {"offset": 0.3022, "color": "white"},
               {"offset": 0.4121, "color": "white"}, {"offset": 0.4121, "color": "#111"}, {"offset": 0.4451, "color": "#111"}, {"offset": 0.4451, "color": "white"},
               {"offset": 0.5549, "color": "white"}, {"offset": 0.5549, "color": "#111"}, {"offset": 0.5879, "color": "#111"}, {"offset": 0.5879, "color": "white"},
               {"offset": 0.6978, "color": "white"}, {"offset": 0.6978, "color": "#111"}, {"offset": 0.7308, "color": "#111"}, {"offset": 0.7308, "color": "white"},
               {"offset": 0.8406, "color": "white"}, {"offset": 0.8406, "color": "#111"}, {"offset": 0.8736, "color": "#111"}, {"offset": 0.8736, "color": "white"},
               {"offset": 1, "color": "white"}]}},
             "encoding": {
               "x": {"field": "group", "type": "nominal", "scale": {"domain": ["Control", "Oxytocin"], "range": [0, 386], "paddingInner": 0, "paddingOuter": 0.734, "align": 0.506}, "axis": null},
               "y": {"field": "mean", "type": "quantitative", "scale": {"domain": [0, 1.5], "range": [272.3, 127.7], "nice": false},
                     "axis": {"orient": "left", "domain": false, "ticks": false, "labels": false, "title": "C", "titleAngle": 0, "titleAlign": "left", "titleBaseline": "alphabetic", "titleX": -64, "titleY": 50, "titleFont": "Liberation Serif", "titleFontSize": 30, "titleFontWeight": "bold", "titleColor": "#111"}}
             }},
            {"transform": [{"filter": "datum.group === 'Oxytocin'"}],
             "mark": {"type": "bar", "stroke": "#111", "strokeWidth": 1.5, "fill": {"gradient": "linear", "x1": 0, "y1": 0, "x2": 1, "y2": 0, "stops": [
               {"offset": 0, "color": "rgba(0,0,0,0)"},
               {"offset": 0.0814, "color": "rgba(0,0,0,0)"}, {"offset": 0.0814, "color": "#111"}, {"offset": 0.1004, "color": "#111"}, {"offset": 0.1004, "color": "rgba(0,0,0,0)"},
               {"offset": 0.1723, "color": "rgba(0,0,0,0)"}, {"offset": 0.1723, "color": "#111"}, {"offset": 0.1913, "color": "#111"}, {"offset": 0.1913, "color": "rgba(0,0,0,0)"},
               {"offset": 0.2632, "color": "rgba(0,0,0,0)"}, {"offset": 0.2632, "color": "#111"}, {"offset": 0.2822, "color": "#111"}, {"offset": 0.2822, "color": "rgba(0,0,0,0)"},
               {"offset": 0.3541, "color": "rgba(0,0,0,0)"}, {"offset": 0.3541, "color": "#111"}, {"offset": 0.3731, "color": "#111"}, {"offset": 0.3731, "color": "rgba(0,0,0,0)"},
               {"offset": 0.4450, "color": "rgba(0,0,0,0)"}, {"offset": 0.4450, "color": "#111"}, {"offset": 0.4640, "color": "#111"}, {"offset": 0.4640, "color": "rgba(0,0,0,0)"},
               {"offset": 0.5360, "color": "rgba(0,0,0,0)"}, {"offset": 0.5360, "color": "#111"}, {"offset": 0.5550, "color": "#111"}, {"offset": 0.5550, "color": "rgba(0,0,0,0)"},
               {"offset": 0.6269, "color": "rgba(0,0,0,0)"}, {"offset": 0.6269, "color": "#111"}, {"offset": 0.6459, "color": "#111"}, {"offset": 0.6459, "color": "rgba(0,0,0,0)"},
               {"offset": 0.7178, "color": "rgba(0,0,0,0)"}, {"offset": 0.7178, "color": "#111"}, {"offset": 0.7368, "color": "#111"}, {"offset": 0.7368, "color": "rgba(0,0,0,0)"},
               {"offset": 0.8087, "color": "rgba(0,0,0,0)"}, {"offset": 0.8087, "color": "#111"}, {"offset": 0.8277, "color": "#111"}, {"offset": 0.8277, "color": "rgba(0,0,0,0)"},
               {"offset": 0.8996, "color": "rgba(0,0,0,0)"}, {"offset": 0.8996, "color": "#111"}, {"offset": 0.9186, "color": "#111"}, {"offset": 0.9186, "color": "rgba(0,0,0,0)"},
               {"offset": 1, "color": "rgba(0,0,0,0)"}]}},
             "encoding": {
               "x": {"field": "group", "type": "nominal", "scale": {"domain": ["Control", "Oxytocin"], "range": [0, 386], "paddingInner": 0, "paddingOuter": 0.734, "align": 0.506}, "axis": null},
               "y": {"field": "mean", "type": "quantitative", "scale": {"domain": [0, 1.5], "range": [272.3, 127.7], "nice": false}, "axis": null}
             }},
            {"mark": {"type": "rule", "color": "#111", "strokeWidth": 2},
             "encoding": {
               "x": {"field": "group", "type": "nominal", "scale": {"domain": ["Control", "Oxytocin"], "range": [0, 386], "paddingInner": 0, "paddingOuter": 0.734, "align": 0.506}, "axis": null},
               "y": {"field": "lo", "type": "quantitative", "scale": {"domain": [0, 1.5], "range": [272.3, 127.7], "nice": false}, "axis": null},
               "y2": {"field": "hi"}
             }},
            {"mark": {"type": "tick", "color": "#111", "thickness": 2, "size": 13, "opacity": 1},
             "encoding": {
               "x": {"field": "group", "type": "nominal", "scale": {"domain": ["Control", "Oxytocin"], "range": [0, 386], "paddingInner": 0, "paddingOuter": 0.734, "align": 0.506}, "axis": null},
               "y": {"field": "lo", "type": "quantitative", "scale": {"domain": [0, 1.5], "range": [272.3, 127.7], "nice": false}, "axis": null}
             }},
            {"mark": {"type": "tick", "color": "#111", "thickness": 2, "size": 13, "opacity": 1},
             "encoding": {
               "x": {"field": "group", "type": "nominal", "scale": {"domain": ["Control", "Oxytocin"], "range": [0, 386], "paddingInner": 0, "paddingOuter": 0.734, "align": 0.506}, "axis": null},
               "y": {"field": "hi", "type": "quantitative", "scale": {"domain": [0, 1.5], "range": [272.3, 127.7], "nice": false}, "axis": null}
             }},
            {"transform": [{"filter": "datum.group === 'Oxytocin'"}],
             "mark": {"type": "text", "text": "*", "font": "Liberation Serif", "fontSize": 20, "fontWeight": "bold", "color": "#111", "baseline": "alphabetic", "dy": -4},
             "encoding": {
               "x": {"field": "group", "type": "nominal", "scale": {"domain": ["Control", "Oxytocin"], "range": [0, 386], "paddingInner": 0, "paddingOuter": 0.734, "align": 0.506}, "axis": null},
               "y": {"field": "hi", "type": "quantitative", "scale": {"domain": [0, 1.5], "range": [272.3, 127.7], "nice": false}, "axis": null}
             }}
          ],
          "resolve": {"axis": {"x": "independent", "y": "independent"}}
        },
        {
          "data": {"name": "D"},
          "layer": [
            {"transform": [{"filter": "datum.group === 'Control'"}],
             "mark": {"type": "bar", "fill": "white", "stroke": "#111", "strokeWidth": 1.5},
             "encoding": {
               "x": {"field": "group", "type": "nominal", "scale": {"domain": ["Control", "Oxytocin"], "range": [519, 906], "paddingInner": 0, "paddingOuter": 0.754, "align": 0.509},
                     "axis": {"orient": "bottom", "title": null, "ticks": false, "domainWidth": 2, "labelAngle": 0, "labelPadding": 23, "labelFont": "Liberation Serif", "labelFontSize": 21, "labelFontWeight": "bold", "labelColor": "#111"}},
               "y": {"field": "mean", "type": "quantitative", "scale": {"domain": [0, 0.8], "range": [271.7, 130], "nice": false},
                     "axis": {"orient": "left", "offset": -519, "values": [0, 0.2, 0.4, 0.6, 0.8], "format": "~g", "tickSize": 7, "tickWidth": 2, "domainWidth": 2, "labelPadding": 9, "labelFont": "DejaVu Sans", "labelFontSize": 16, "labelFontWeight": "bold", "labelColor": "#222",
                              "title": "TI (s)", "titleAngle": 270, "titleAlign": "center", "titleBaseline": "alphabetic", "titleX": -66, "titleY": 195, "titleFont": "Liberation Serif", "titleFontSize": 22, "titleFontWeight": "bold", "titleColor": "#111"}}
             }},
            {"transform": [{"filter": "datum.group === 'Oxytocin'"}],
             "mark": {"type": "bar", "fill": {"gradient": "linear", "x1": 0, "y1": 0, "x2": 0, "y2": 1, "stops": [
               {"offset": 0, "color": "white"},
               {"offset": 0.0887, "color": "white"}, {"offset": 0.0887, "color": "#111"}, {"offset": 0.1113, "color": "#111"}, {"offset": 0.1113, "color": "white"},
               {"offset": 0.1887, "color": "white"}, {"offset": 0.1887, "color": "#111"}, {"offset": 0.2113, "color": "#111"}, {"offset": 0.2113, "color": "white"},
               {"offset": 0.2887, "color": "white"}, {"offset": 0.2887, "color": "#111"}, {"offset": 0.3113, "color": "#111"}, {"offset": 0.3113, "color": "white"},
               {"offset": 0.3887, "color": "white"}, {"offset": 0.3887, "color": "#111"}, {"offset": 0.4113, "color": "#111"}, {"offset": 0.4113, "color": "white"},
               {"offset": 0.4887, "color": "white"}, {"offset": 0.4887, "color": "#111"}, {"offset": 0.5113, "color": "#111"}, {"offset": 0.5113, "color": "white"},
               {"offset": 0.5887, "color": "white"}, {"offset": 0.5887, "color": "#111"}, {"offset": 0.6113, "color": "#111"}, {"offset": 0.6113, "color": "white"},
               {"offset": 0.6887, "color": "white"}, {"offset": 0.6887, "color": "#111"}, {"offset": 0.7113, "color": "#111"}, {"offset": 0.7113, "color": "white"},
               {"offset": 0.7887, "color": "white"}, {"offset": 0.7887, "color": "#111"}, {"offset": 0.8113, "color": "#111"}, {"offset": 0.8113, "color": "white"},
               {"offset": 0.8887, "color": "white"}, {"offset": 0.8887, "color": "#111"}, {"offset": 0.9113, "color": "#111"}, {"offset": 0.9113, "color": "white"},
               {"offset": 1, "color": "white"}]}},
             "encoding": {
               "x": {"field": "group", "type": "nominal", "scale": {"domain": ["Control", "Oxytocin"], "range": [519, 906], "paddingInner": 0, "paddingOuter": 0.754, "align": 0.509}, "axis": null},
               "y": {"field": "mean", "type": "quantitative", "scale": {"domain": [0, 0.8], "range": [271.7, 130], "nice": false},
                     "axis": {"orient": "left", "offset": -519, "domain": false, "ticks": false, "labels": false, "title": "D", "titleAngle": 0, "titleAlign": "left", "titleBaseline": "alphabetic", "titleX": -85, "titleY": 50, "titleFont": "Liberation Serif", "titleFontSize": 30, "titleFontWeight": "bold", "titleColor": "#111"}}
             }},
            {"transform": [{"filter": "datum.group === 'Oxytocin'"}],
             "mark": {"type": "bar", "stroke": "#111", "strokeWidth": 1.5, "fill": {"gradient": "linear", "x1": 0, "y1": 0, "x2": 1, "y2": 0, "stops": [
               {"offset": 0, "color": "rgba(0,0,0,0)"},
               {"offset": 0.0814, "color": "rgba(0,0,0,0)"}, {"offset": 0.0814, "color": "#111"}, {"offset": 0.1004, "color": "#111"}, {"offset": 0.1004, "color": "rgba(0,0,0,0)"},
               {"offset": 0.1723, "color": "rgba(0,0,0,0)"}, {"offset": 0.1723, "color": "#111"}, {"offset": 0.1913, "color": "#111"}, {"offset": 0.1913, "color": "rgba(0,0,0,0)"},
               {"offset": 0.2632, "color": "rgba(0,0,0,0)"}, {"offset": 0.2632, "color": "#111"}, {"offset": 0.2822, "color": "#111"}, {"offset": 0.2822, "color": "rgba(0,0,0,0)"},
               {"offset": 0.3541, "color": "rgba(0,0,0,0)"}, {"offset": 0.3541, "color": "#111"}, {"offset": 0.3731, "color": "#111"}, {"offset": 0.3731, "color": "rgba(0,0,0,0)"},
               {"offset": 0.4450, "color": "rgba(0,0,0,0)"}, {"offset": 0.4450, "color": "#111"}, {"offset": 0.4640, "color": "#111"}, {"offset": 0.4640, "color": "rgba(0,0,0,0)"},
               {"offset": 0.5360, "color": "rgba(0,0,0,0)"}, {"offset": 0.5360, "color": "#111"}, {"offset": 0.5550, "color": "#111"}, {"offset": 0.5550, "color": "rgba(0,0,0,0)"},
               {"offset": 0.6269, "color": "rgba(0,0,0,0)"}, {"offset": 0.6269, "color": "#111"}, {"offset": 0.6459, "color": "#111"}, {"offset": 0.6459, "color": "rgba(0,0,0,0)"},
               {"offset": 0.7178, "color": "rgba(0,0,0,0)"}, {"offset": 0.7178, "color": "#111"}, {"offset": 0.7368, "color": "#111"}, {"offset": 0.7368, "color": "rgba(0,0,0,0)"},
               {"offset": 0.8087, "color": "rgba(0,0,0,0)"}, {"offset": 0.8087, "color": "#111"}, {"offset": 0.8277, "color": "#111"}, {"offset": 0.8277, "color": "rgba(0,0,0,0)"},
               {"offset": 0.8996, "color": "rgba(0,0,0,0)"}, {"offset": 0.8996, "color": "#111"}, {"offset": 0.9186, "color": "#111"}, {"offset": 0.9186, "color": "rgba(0,0,0,0)"},
               {"offset": 1, "color": "rgba(0,0,0,0)"}]}},
             "encoding": {
               "x": {"field": "group", "type": "nominal", "scale": {"domain": ["Control", "Oxytocin"], "range": [519, 906], "paddingInner": 0, "paddingOuter": 0.754, "align": 0.509}, "axis": null},
               "y": {"field": "mean", "type": "quantitative", "scale": {"domain": [0, 0.8], "range": [271.7, 130], "nice": false}, "axis": null}
             }},
            {"mark": {"type": "rule", "color": "#111", "strokeWidth": 2},
             "encoding": {
               "x": {"field": "group", "type": "nominal", "scale": {"domain": ["Control", "Oxytocin"], "range": [519, 906], "paddingInner": 0, "paddingOuter": 0.754, "align": 0.509}, "axis": null},
               "y": {"field": "lo", "type": "quantitative", "scale": {"domain": [0, 0.8], "range": [271.7, 130], "nice": false}, "axis": null},
               "y2": {"field": "hi"}
             }},
            {"mark": {"type": "tick", "color": "#111", "thickness": 2, "size": 13, "opacity": 1},
             "encoding": {
               "x": {"field": "group", "type": "nominal", "scale": {"domain": ["Control", "Oxytocin"], "range": [519, 906], "paddingInner": 0, "paddingOuter": 0.754, "align": 0.509}, "axis": null},
               "y": {"field": "lo", "type": "quantitative", "scale": {"domain": [0, 0.8], "range": [271.7, 130], "nice": false}, "axis": null}
             }},
            {"mark": {"type": "tick", "color": "#111", "thickness": 2, "size": 13, "opacity": 1},
             "encoding": {
               "x": {"field": "group", "type": "nominal", "scale": {"domain": ["Control", "Oxytocin"], "range": [519, 906], "paddingInner": 0, "paddingOuter": 0.754, "align": 0.509}, "axis": null},
               "y": {"field": "hi", "type": "quantitative", "scale": {"domain": [0, 0.8], "range": [271.7, 130], "nice": false}, "axis": null}
             }},
            {"transform": [{"filter": "datum.group === 'Oxytocin'"}],
             "mark": {"type": "text", "text": "*", "font": "Liberation Serif", "fontSize": 20, "fontWeight": "bold", "color": "#111", "baseline": "alphabetic", "dy": -10},
             "encoding": {
               "x": {"field": "group", "type": "nominal", "scale": {"domain": ["Control", "Oxytocin"], "range": [519, 906], "paddingInner": 0, "paddingOuter": 0.754, "align": 0.509}, "axis": null},
               "y": {"field": "hi", "type": "quantitative", "scale": {"domain": [0, 0.8], "range": [271.7, 130], "nice": false}, "axis": null}
             }}
          ],
          "resolve": {"axis": {"x": "independent", "y": "independent"}}
        }
      ],
      "resolve": {"scale": {"x": "independent", "y": "independent"}, "axis": {"x": "independent", "y": "independent"}}
    }
  ]
}
